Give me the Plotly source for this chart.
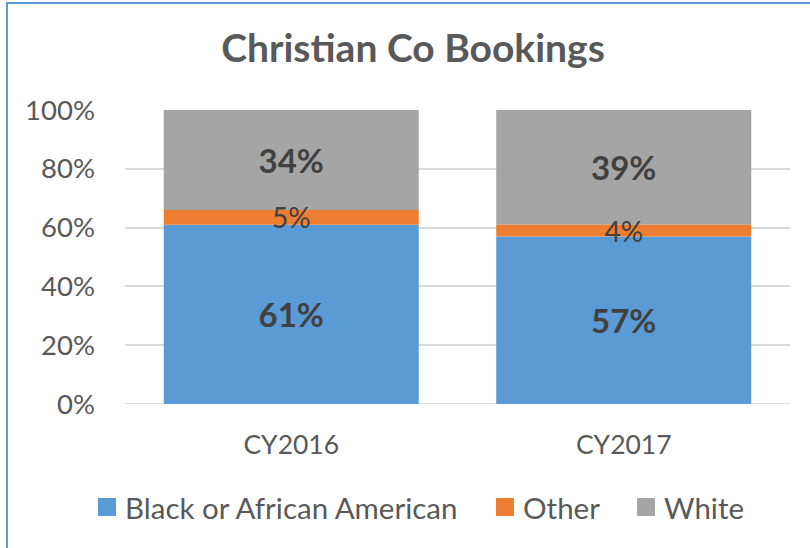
import plotly.graph_objects as go

categories = ["CY2016", "CY2017"]
series_names = ["Black or African American", "Other", "White"]
black_vals = [61, 57]
other_vals = [5, 4]
white_vals = [34, 39]
tick_vals = [0, 20, 40, 60, 80, 100]
tick_text = ["0%", "20%", "40%", "60%", "80%", "100%"]

colors = ["#5B9BD5", "#ED7D31", "#A5A5A5"]
bold = [True, False, True]
FONT = "Lato, Calibri, Carlito, sans-serif"

series_vals = [black_vals, other_vals, white_vals]
# stacked bases computed from the data
bases = [[0] * len(categories)]
for vals in series_vals[:-1]:
    bases.append([b + v for b, v in zip(bases[-1], vals)])

W, H = 810, 548
L, R, T, B = 125, 20, 110, 144
pw, ph = W - L - R, H - T - B


def px(x):
    return (x - L) / pw


def py(y):
    return (H - B - y) / ph


fig = go.Figure()
# draw order: Black, White, then Other last so its label sits on top
draw_order = [0, 2, 1]
for i in draw_order:
    name, vals, col, b, base = series_names[i], series_vals[i], colors[i], bold[i], bases[i]
    txt = [(f"<b>{v}%</b>" if b else f"{v}%") for v in vals]
    fig.add_trace(go.Bar(
        x=categories, y=vals, base=base, name=name,
        marker=dict(color=col, line=dict(width=0)),
        text=txt, textposition="inside", insidetextanchor="middle",
        textfont=dict(family=FONT, size=33 if b else 28, color="#404040"),
        constraintext="none", cliponaxis=False, showlegend=False,
    ))

# manual legend (square swatch + label)
legend_sq_x = [98, 496, 637]
legend_y = 507
shapes = []
annotations = []
for name, col, x0 in zip(series_names, colors, legend_sq_x):
    shapes.append(dict(type="rect", xref="paper", yref="paper",
                       x0=px(x0), x1=px(x0 + 18), y0=py(legend_y + 9), y1=py(legend_y - 9),
                       fillcolor=col, line=dict(width=0)))
    annotations.append(dict(text=name, xref="paper", yref="paper", x=px(x0 + 25),
                            y=py(legend_y), xanchor="left", yanchor="middle",
                            showarrow=False,
                            font=dict(family=FONT, size=29.5, color="#595959")))

shapes.append(dict(type="rect", xref="paper", yref="paper",
                   x0=px(7), x1=px(W + 5), y0=py(H + 5), y1=py(3),
                   line=dict(color="#5B9BD5", width=2), fillcolor="rgba(0,0,0,0)",
                   layer="above"))
shapes.append(dict(type="line", xref="paper", yref="y", x0=0, x1=1, y0=0, y1=0,
                   line=dict(color="#D9D9D9", width=1.5), layer="below"))

fig.update_layout(
    width=W, height=H, barmode="overlay", bargap=0.233,
    margin=dict(l=L, r=R, t=T, b=B), showlegend=False,
    paper_bgcolor="white", plot_bgcolor="white",
    font=dict(family=FONT, color="#595959"),
    title=dict(text="<b>Christian Co Bookings</b>", x=413 / W, xanchor="center",
               y=1 - 48 / H, yanchor="middle", xref="container", yref="container",
               font=dict(family=FONT, size=39, color="#595959")),
    xaxis=dict(showgrid=False, showline=False, ticks="", ticklabelstandoff=22,
               tickfont=dict(size=26.5, color="#595959")),
    yaxis=dict(range=[0, 100], tickvals=tick_vals, ticktext=tick_text, showgrid=True,
               gridcolor="#D9D9D9", gridwidth=1.5, zeroline=False, showline=False,
               ticks="", ticklabelstandoff=29, tickfont=dict(size=27.5, color="#595959")),
    shapes=shapes,
    annotations=annotations,
)
fig.write_html("out.html", config={"displayModeBar": False},
               post_script="document.body.style.margin='0px';")
